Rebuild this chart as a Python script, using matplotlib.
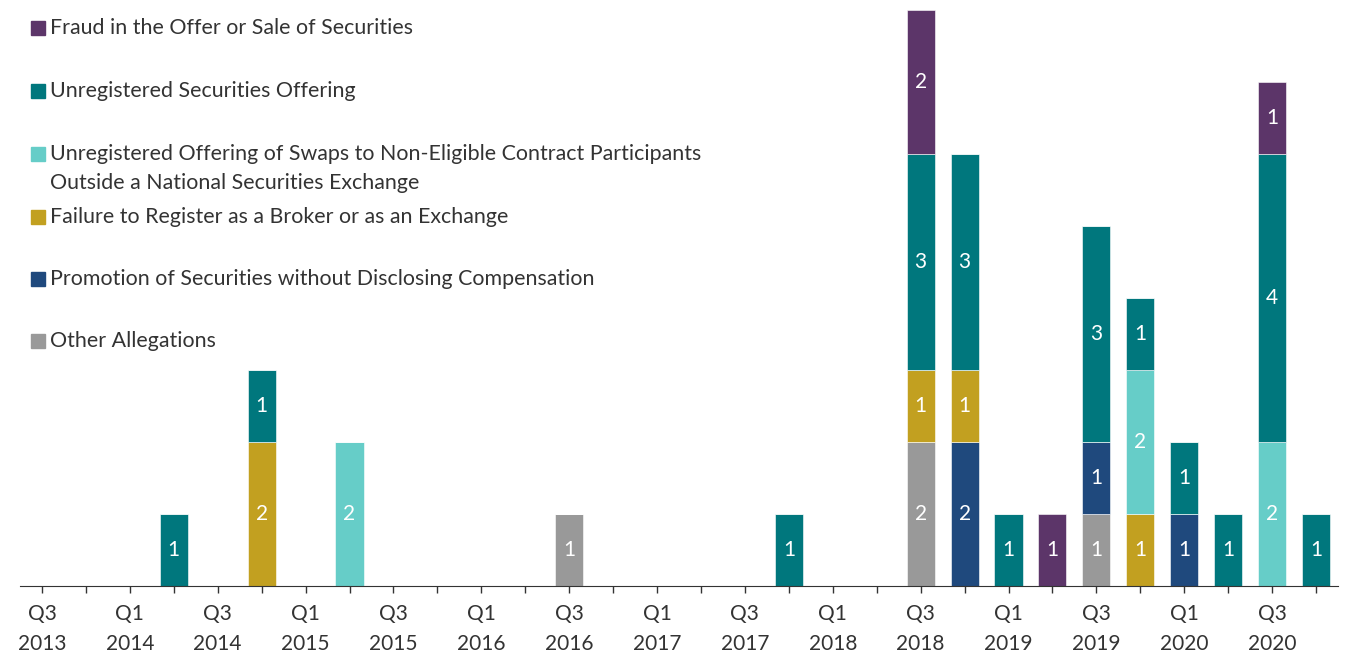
import matplotlib
matplotlib.use("Agg")
import matplotlib.pyplot as plt
from matplotlib.patches import Rectangle
import numpy as np

plt.rcParams['font.family'] = ['Lato', 'DejaVu Sans']

# quarters Q3 2013 .. Q4 2020
quarters = ['Q3\n2013', 'Q4\n2013', 'Q1\n2014', 'Q2\n2014', 'Q3\n2014', 'Q4\n2014',
            'Q1\n2015', 'Q2\n2015', 'Q3\n2015', 'Q4\n2015', 'Q1\n2016', 'Q2\n2016',
            'Q3\n2016', 'Q4\n2016', 'Q1\n2017', 'Q2\n2017', 'Q3\n2017', 'Q4\n2017',
            'Q1\n2018', 'Q2\n2018', 'Q3\n2018', 'Q4\n2018', 'Q1\n2019', 'Q2\n2019',
            'Q3\n2019', 'Q4\n2019', 'Q1\n2020', 'Q2\n2020', 'Q3\n2020', 'Q4\n2020']

other =        [0, 0, 0, 0, 0, 0, 0, 0, 0, 0, 0, 0, 1, 0, 0, 0, 0, 0, 0, 0, 2, 0, 0, 0, 1, 0, 0, 0, 0, 0]
promotion =    [0, 0, 0, 0, 0, 0, 0, 0, 0, 0, 0, 0, 0, 0, 0, 0, 0, 0, 0, 0, 0, 2, 0, 0, 1, 0, 1, 0, 0, 0]
failure =      [0, 0, 0, 0, 0, 2, 0, 0, 0, 0, 0, 0, 0, 0, 0, 0, 0, 0, 0, 0, 1, 1, 0, 0, 0, 1, 0, 0, 0, 0]
swaps =        [0, 0, 0, 0, 0, 0, 0, 2, 0, 0, 0, 0, 0, 0, 0, 0, 0, 0, 0, 0, 0, 0, 0, 0, 0, 2, 0, 0, 2, 0]
unregistered = [0, 0, 0, 1, 0, 1, 0, 0, 0, 0, 0, 0, 0, 0, 0, 0, 0, 1, 0, 0, 3, 3, 1, 0, 3, 1, 1, 1, 4, 1]
fraud =        [0, 0, 0, 0, 0, 0, 0, 0, 0, 0, 0, 0, 0, 0, 0, 0, 0, 0, 0, 0, 2, 0, 0, 1, 0, 0, 0, 0, 1, 0]

series = [
    (other, 'Other Allegations', '#999999'),
    (promotion, 'Promotion of Securities without Disclosing Compensation', '#1F497D'),
    (failure, 'Failure to Register as a Broker or as an Exchange', '#C2A020'),
    (swaps, 'Unregistered Offering of Swaps to Non-Eligible Contract Participants\nOutside a National Securities Exchange', '#66CDC8'),
    (unregistered, 'Unregistered Securities Offering', '#00777D'),
    (fraud, 'Fraud in the Offer or Sale of Securities', '#5C3569'),
]

W, H = 1353, 652
fig = plt.figure(figsize=(W / 100, H / 100), dpi=100)
ax = fig.add_axes([20 / W, 66 / H, 1318 / W, 576 / H])

x = np.arange(len(quarters))
bottom = np.zeros(len(quarters))
for vals, name, col in series:
    vals = np.array(vals, dtype=float)
    ax.bar(x, vals, 0.64, bottom=bottom, color=col, edgecolor='white', linewidth=0.4)
    for xi, v, b in zip(x, vals, bottom):
        if v > 0:
            ax.text(xi, b + v / 2, f'{int(v)}', ha='center', va='center',
                    color='white', fontsize=15)
    bottom += vals

ax.set_xlim(-0.5, len(quarters) - 0.5)
ax.set_ylim(0, 8)
ax.set_xticks(x)
ax.set_xticklabels([q if i % 2 == 0 else '' for i, q in enumerate(quarters)],
                   fontsize=15, color='#333333', linespacing=1.6)
ax.tick_params(axis='x', length=5, width=1, color='#333333', pad=8)
ax.set_yticks([])
for s in ['top', 'right', 'left']:
    ax.spines[s].set_visible(False)
ax.spines['bottom'].set_color('#333333')

# legend drawn by hand, top to bottom
rows = [(fraud, 28), (unregistered, 91), (swaps, 154), (failure, 217), (promotion, 279), (other, 341)]
names = {id(v): (n, c) for v, n, c in series}
for vals, ypx in rows:
    name, col = names[id(vals)]
    fig.patches.append(Rectangle((31 / W, 1 - (ypx + 7) / H), 14 / W, 14 / H,
                                 transform=fig.transFigure, color=col))
    for k, line in enumerate(name.split('\n')):
        fig.text(50 / W, 1 - (ypx + 29 * k) / H, line, ha='left', va='center',
                 fontsize=15.4, color='#333333')

fig.savefig('out.png', dpi=100)
